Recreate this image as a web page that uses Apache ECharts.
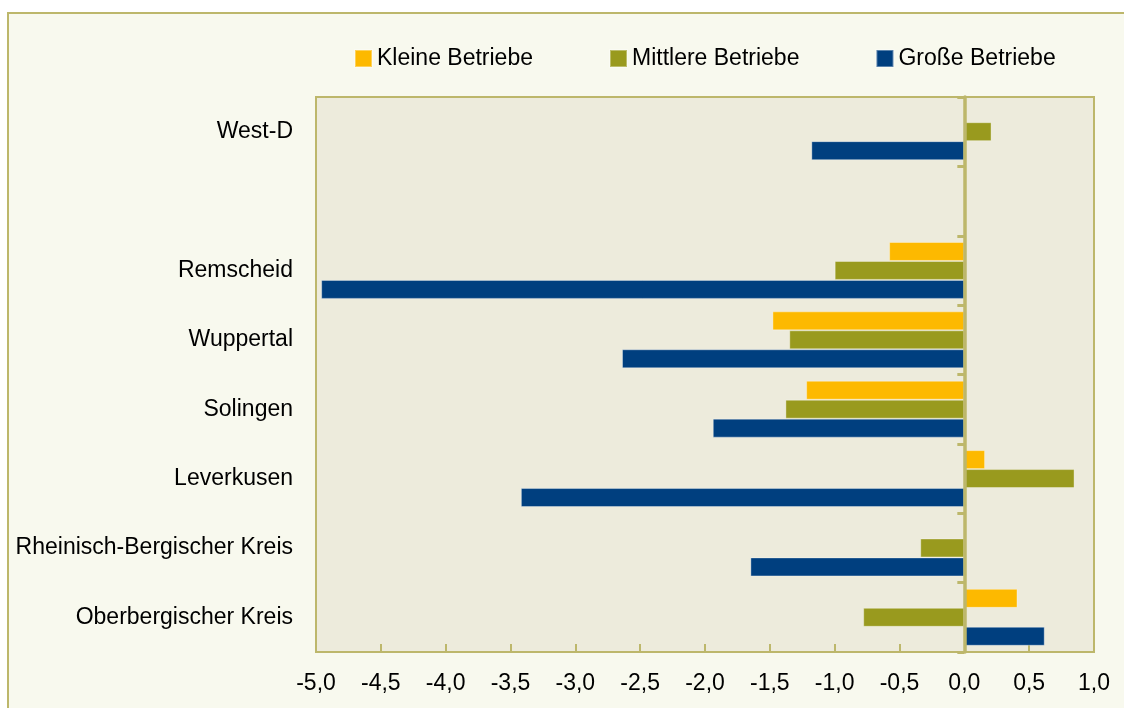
<!DOCTYPE html>
<html>
<head>
<meta charset="utf-8">
<script src="https://cdn.jsdelivr.net/npm/echarts@6/dist/echarts.min.js"></script>
<style>
html, body { margin: 0; padding: 0; width: 1124px; height: 708px; overflow: hidden; background: #ffffff; }
#bg { position: absolute; left: 7px; top: 12px; width: 1200px; height: 800px; background: #F8F9EE; border-left: 2px solid #BDB76B; border-top: 2px solid #BDB76B; }
#chart { position: absolute; left: 0; top: 0; width: 1124px; height: 708px; }
</style>
</head>
<body>
<div id="bg"></div>
<div id="chart"></div>
<script>
// Categories, top to bottom
const categories = ['West-D', '', 'Remscheid', 'Wuppertal', 'Solingen', 'Leverkusen', 'Rheinisch-Bergischer Kreis', 'Oberbergischer Kreis'];
const seriesNames = ['Kleine Betriebe', 'Mittlere Betriebe', 'Große Betriebe'];
const kleine   = [null, null, -0.58, -1.48, -1.22, 0.16, null, 0.41];
const mittlere = [0.21, null, -1.00, -1.35, -1.38, 0.85, -0.34, -0.78];
const grosse   = [-1.18, null, -4.96, -2.64, -1.94, -3.42, -1.65, 0.62];
const xMin = -5.0, xMax = 1.0, xStep = 0.5;

const axisColor = '#BDB76B';
const font = '"Liberation Sans", Arial, sans-serif';

const chart = echarts.init(document.getElementById('chart'), null, { renderer: 'canvas' });
const colors = ['#FDB900', '#999A1E', '#003F7F'];
const dataSets = [kleine, mittlere, grosse];

chart.setOption({
  backgroundColor: 'transparent',
  animation: false,
  color: colors,
  legend: {
    data: seriesNames,
    left: 349,
    top: 42,
    itemWidth: 17,
    itemHeight: 17,
    itemGap: 76,
    icon: 'rect',
    textStyle: { fontFamily: font, fontSize: 23, color: '#000' }
  },
  grid: {
    left: 316, right: 30, top: 97, bottom: 56,
    show: true,
    backgroundColor: '#EDEBDC',
    borderColor: axisColor,
    borderWidth: 2
  },
  xAxis: {
    type: 'value',
    min: xMin, max: xMax, interval: xStep,
    axisLine: { show: true, onZero: false, lineStyle: { color: axisColor, width: 2 } },
    axisTick: { show: true, inside: true, length: 8, lineStyle: { color: axisColor, width: 2 } },
    splitLine: { show: false },
    axisLabel: {
      margin: 20,
      fontFamily: font, fontSize: 23, color: '#000',
      formatter: v => v.toFixed(1).replace('.', ',')
    }
  },
  yAxis: [
    {
      type: 'category',
      data: categories,
      inverse: true,
      position: 'left',
      axisLine: { show: false, onZero: false },
      axisTick: { show: false },
      axisLabel: { margin: 23, fontFamily: font, fontSize: 23, color: '#000' }
    },
    {
      type: 'category',
      data: categories,
      inverse: true,
      position: 'left',
      z: 10,
      axisLine: { show: true, onZero: true, lineStyle: { color: axisColor, width: 3.5 } },
      axisTick: { show: true, length: 7, lineStyle: { color: axisColor, width: 3 } },
      axisLabel: { show: false }
    }
  ],
  series: seriesNames.map((name, i) => ({
    name: name,
    type: 'bar',
    yAxisIndex: 0,
    data: dataSets[i],
    barCategoryGap: '18%',
    barGap: '0%',
    itemStyle: { color: colors[i], borderColor: 'rgba(255,255,255,0.35)', borderWidth: 1 }
  }))
});
</script>
</body>
</html>
